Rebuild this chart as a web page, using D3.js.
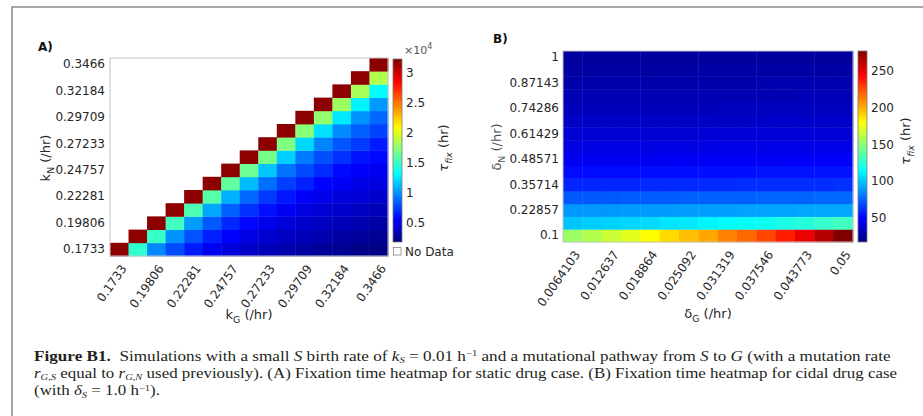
<!DOCTYPE html>
<html>
<head>
<meta charset="utf-8">
<script src="https://cdn.jsdelivr.net/npm/d3@7"></script>
<style>
  body { margin: 0; background: #fff; }
  svg { display: block; font-family: "DejaVu Sans", sans-serif; }
</style>
</head>
<body>
<svg id="fig" width="923" height="416"></svg>
<script>
// ---- Panel A: static drug, fixation time over (k_G, k_N) ----
const kCats = ["0.1733","0.18568","0.19806","0.21044","0.22281","0.23519","0.24757","0.25995",
               "0.27233","0.28471","0.29709","0.30946","0.32184","0.33422","0.3466"];
const kTicks = ["0.1733","0.19806","0.22281","0.24757","0.27233","0.29709","0.32184","0.3466"];
// rows: k_N from 0.1733 (first) up to 0.3466 (last); columns: k_G; null = no data
const fixStatic = [
  [31800,14600, 9700, 7900, 6400, 5300, 4600, 4000, 3500, 3200, 2900, 2600, 2400, 2100, 2000],
  [null,31800,14900,10000, 8100, 6600, 5600, 4800, 4200, 3800, 3500, 3200, 2900, 2700, 2400],
  [null,null,31800,15200,10300, 8300, 6800, 5800, 5000, 4500, 4100, 3800, 3500, 3200, 3000],
  [null,null,null,31800,15500,10600, 8500, 7100, 6100, 5300, 4700, 4300, 4100, 3800, 3500],
  [null,null,null,null,31800,15800,10900, 8700, 7300, 6300, 5500, 5000, 4600, 4400, 4100],
  [null,null,null,null,null,31800,16100,11200, 8900, 7500, 6600, 5700, 5300, 4900, 4700],
  [null,null,null,null,null,null,31800,16400,11500, 9100, 7800, 6900, 5900, 5500, 5200],
  [null,null,null,null,null,null,null,31800,16700,11800, 9300, 8000, 7100, 6200, 5800],
  [null,null,null,null,null,null,null,null,31800,17000,12100, 9600, 8200, 7400, 6400],
  [null,null,null,null,null,null,null,null,null,31800,17300,12300, 9800, 8500, 7600],
  [null,null,null,null,null,null,null,null,null,null,31800,17600,12600,10000, 8700],
  [null,null,null,null,null,null,null,null,null,null,null,31800,17900,12900,10200],
  [null,null,null,null,null,null,null,null,null,null,null,null,31800,18200,13200],
  [null,null,null,null,null,null,null,null,null,null,null,null,null,31800,18500],
  [null,null,null,null,null,null,null,null,null,null,null,null,null,null,31800]
];
const staticRange = [1840, 32200];
const staticBarTicks = [5000, 10000, 15000, 20000, 25000, 30000];

// ---- Panel B: cidal drug, fixation time over (delta_G, delta_N) ----
const dGCats = ["0.0064103","0.0095236","0.012637","0.01575","0.018864","0.021978","0.025092","0.028205",
                "0.031319","0.034432","0.037546","0.04066","0.043773","0.046887","0.05"];
const dGTicks = ["0.0064103","0.012637","0.018864","0.025092","0.031319","0.037546","0.043773","0.05"];
const dNCats = ["0.1","0.16429","0.22857","0.29286","0.35714","0.42143","0.48571","0.55",
                "0.61429","0.67857","0.74286","0.80714","0.87143","0.93571","1"];
const dNTicks = ["0.1","0.22857","0.35714","0.48571","0.61429","0.74286","0.87143","1"];
// rows: delta_N from 0.1 (first) up to 1 (last); columns: delta_G
const fixCidal = [
  [154,160,166,172,180,189,196,202,211,218,227,237,249,264,277],
  [100,102,103,104,105,108,109,112,114,116,118,121,124,128,131],
  [ 88, 88, 88, 89, 89, 89, 90, 90, 90, 91, 91, 91, 92, 92, 92],
  [ 72, 72, 72, 73, 73, 73, 74, 74, 74, 74, 75, 75, 75, 76, 76],
  [ 59, 59, 59, 59, 60, 60, 60, 60, 60, 61, 61, 61, 61, 61, 62],
  [ 52, 52, 52, 52, 53, 53, 53, 53, 53, 53, 54, 54, 54, 54, 54],
  [ 46, 46, 46, 46, 46, 47, 47, 47, 47, 47, 47, 47, 48, 48, 48],
  [ 42, 42, 42, 42, 42, 42, 42, 42, 43, 43, 43, 43, 43, 43, 43],
  [ 38, 38, 38, 38, 38, 38, 38, 39, 39, 39, 39, 39, 39, 39, 39],
  [ 35, 35, 35, 35, 35, 35, 35, 35, 35, 35, 36, 36, 36, 36, 36],
  [ 32, 32, 32, 32, 32, 32, 32, 32, 33, 33, 33, 33, 33, 33, 33],
  [ 30, 30, 30, 30, 30, 30, 30, 30, 30, 30, 30, 30, 31, 31, 31],
  [ 28, 28, 28, 28, 28, 28, 28, 28, 28, 28, 29, 29, 29, 29, 29],
  [ 26, 26, 26, 26, 26, 26, 26, 27, 27, 27, 27, 27, 27, 27, 27],
  [ 25, 25, 25, 25, 25, 25, 25, 25, 25, 25, 25, 25, 25, 25, 25]
];
const cidalRange = [17, 277];
const cidalBarTicks = [50, 100, 150, 200, 250];

// jet colormap anchor points
const jetStops = [0, 0.125, 0.375, 0.625, 0.875, 1];
const jetColors = ["#000080", "#0000ff", "#00ffff", "#ffff00", "#ff0000", "#800000"];

const INK = "#262626";
const svg = d3.select("#fig");

// outer figure frame (top and left rules)
svg.append("path").attr("d", "M12,416V7H923")
  .attr("fill", "none").attr("stroke", "#8a8a8a").attr("stroke-width", 1.5);

function jet(lo, hi) {
  return d3.scaleLinear()
    .domain(jetStops.map(s => lo + s * (hi - lo)))
    .range(jetColors).interpolate(d3.interpolateRgb).clamp(true);
}

// text with optional subscripted pieces; parts: {t, sub, it}
function richText(sel, parts, size) {
  let shift = 0;
  parts.forEach(p => {
    const s = sel.append("tspan").text(p.t);
    const want = p.sub ? size * 0.3 : 0;
    if (want !== shift) { s.attr("dy", want - shift); shift = want; }
    if (p.sub) s.attr("font-size", size * 0.72);
    if (p.it) s.attr("font-style", "italic");
  });
  return sel;
}

function heatmap(opt) {
  const g = svg.append("g");
  const x = d3.scaleBand().domain(opt.xCats).range([opt.x0, opt.x1]);
  const y = d3.scaleBand().domain(opt.yCats).range([opt.y1, opt.y0]);
  const color = jet(opt.range[0], opt.range[1]);

  const cells = [];
  opt.values.forEach((row, r) => row.forEach((v, c) => {
    if (v !== null) cells.push({ r, c, v });
  }));
  g.append("g").selectAll("rect").data(cells).join("rect")
    .attr("x", d => x(opt.xCats[d.c]))
    .attr("y", d => y(opt.yCats[d.r]))
    .attr("width", x.bandwidth() + 0.4)
    .attr("height", y.bandwidth() + 0.4)
    .attr("fill", d => color(d.v));

  g.append("rect")
    .attr("x", opt.x0).attr("y", opt.y0)
    .attr("width", opt.x1 - opt.x0).attr("height", opt.y1 - opt.y0)
    .attr("fill", "none").attr("stroke", "#c4c4c4").attr("stroke-width", 1);

  // y axis
  const ya = g.append("g").attr("transform", `translate(${opt.x0},0)`)
    .call(d3.axisLeft(y).tickValues(opt.yTicks).tickSize(0).tickPadding(opt.yPad));
  ya.select(".domain").remove();
  ya.selectAll("text").attr("font-size", 12).attr("fill", INK)
    .attr("font-family", "DejaVu Sans");

  // x axis with slanted labels
  const xa = g.append("g").attr("transform", `translate(0,${opt.y1})`)
    .call(d3.axisBottom(x).tickValues(opt.xTicks).tickSize(0));
  xa.select(".domain").remove();
  xa.selectAll("text").attr("font-size", 12).attr("fill", INK)
    .attr("font-family", "DejaVu Sans")
    .attr("text-anchor", "end")
    .attr("x", 0).attr("y", 0).attr("dy", "0.35em")
    .attr("transform", "translate(4.5,10) rotate(-55)");

  // axis titles
  richText(g.append("text")
      .attr("transform", `translate(${opt.xLabelX},${opt.xLabelY})`)
      .attr("text-anchor", "middle").attr("font-size", 13).attr("fill", INK),
    opt.xLabel, 13);
  richText(g.append("text")
      .attr("transform", `translate(${opt.yLabelX},${opt.yLabelY}) rotate(-90)`)
      .attr("text-anchor", "middle").attr("font-size", 13).attr("fill", opt.yLabelInk || INK),
    opt.yLabel, 13);

  // colour bar
  const gid = "grad" + opt.id;
  const grad = svg.append("defs").append("linearGradient").attr("id", gid)
    .attr("x1", 0).attr("y1", 1).attr("x2", 0).attr("y2", 0);
  grad.selectAll("stop").data(jetStops).join("stop")
    .attr("offset", d => d).attr("stop-color", (d, i) => jetColors[i]);
  const cs = d3.scaleLinear().domain(opt.range).range([opt.cbY1, opt.cbY0]);
  g.append("rect").attr("x", opt.cbX).attr("y", opt.cbY0)
    .attr("width", opt.cbW).attr("height", opt.cbY1 - opt.cbY0)
    .attr("fill", `url(#${gid})`).attr("stroke", "#7a7a7a").attr("stroke-width", 0.8);
  const ca = g.append("g").attr("transform", `translate(${opt.cbX + opt.cbW},0)`)
    .call(d3.axisRight(cs).tickValues(opt.barTicks).tickSize(0).tickPadding(4)
      .tickFormat(opt.barFormat));
  ca.select(".domain").remove();
  ca.selectAll("text").attr("font-size", 12).attr("fill", INK)
    .attr("font-family", "DejaVu Sans");

  // colour bar title: tau_fix (hr)
  const tt = g.append("text")
    .attr("transform", `translate(${opt.tauX},${opt.tauY}) rotate(-90)`)
    .attr("text-anchor", "middle").attr("font-size", 13).attr("fill", INK);
  richText(tt, [{ t: "τ", it: true }, { t: "fix", sub: true, it: true }, { t: " (hr)" }], 13);

  // panel tag
  g.append("text").attr("x", opt.tagX).attr("y", opt.tagY)
    .attr("font-size", 12).attr("font-weight", "bold").attr("fill", "#111")
    .text(opt.tag);
  return g;
}

// Panel A
const gA = heatmap({
  id: "A", tag: "A)", tagX: 38, tagY: 51,
  xCats: kCats, yCats: kCats, xTicks: kTicks, yTicks: kTicks, values: fixStatic,
  x0: 110, x1: 388, y0: 58, y1: 256, yPad: 5,
  range: staticRange, barTicks: staticBarTicks, barFormat: d => d / 1e4,
  xLabel: [{ t: "k" }, { t: "G", sub: true }, { t: " (/hr)" }], xLabelX: 249, xLabelY: 319,
  yLabel: [{ t: "k" }, { t: "N", sub: true }, { t: " (/hr)" }], yLabelX: 50, yLabelY: 158,
  cbX: 393, cbW: 9, cbY0: 59, cbY1: 242,
  tauX: 448, tauY: 148
});
// exponent marker above the colour bar
const ex = gA.append("text").attr("x", 404).attr("y", 54).attr("font-size", 11).attr("fill", "#555");
ex.append("tspan").text("×10");
ex.append("tspan").attr("dy", -5).attr("font-size", 8).text("4");
// "No Data" legend entry
gA.append("rect").attr("x", 393.5).attr("y", 247.5).attr("width", 7.5).attr("height", 7.5)
  .attr("fill", "#fff").attr("stroke", "#888").attr("stroke-width", 0.8);
gA.append("text").attr("x", 405).attr("y", 255.5).attr("font-size", 12).attr("fill", INK)
  .text("No Data");

// Panel B
heatmap({
  id: "B", tag: "B)", tagX: 493, tagY: 43,
  xCats: dGCats, yCats: dNCats, xTicks: dGTicks, yTicks: dNTicks, values: fixCidal,
  x0: 563, x1: 853, y0: 51, y1: 242, yPad: 4,
  range: cidalRange, barTicks: cidalBarTicks, barFormat: d => d,
  xLabel: [{ t: "δ" }, { t: "G", sub: true }, { t: " (/hr)" }], xLabelX: 708, xLabelY: 318,
  yLabel: [{ t: "δ" }, { t: "N", sub: true }, { t: " (/hr)" }], yLabelX: 501, yLabelY: 147,
  yLabelInk: "#555",
  cbX: 858, cbW: 9, cbY0: 51, cbY1: 242,
  tauX: 910, tauY: 141
});

// ---- Caption ----
const CAP = 14.5;
function captionLine(y, parts, target, fixedScale) {
  const t = svg.append("text").attr("x", 0).attr("y", 0)
    .attr("font-family", "Liberation Serif, serif").attr("font-size", CAP)
    .attr("fill", "#231f20").style("white-space", "pre");
  let shift = 0;
  parts.forEach(p => {
    const s = t.append("tspan").text(p.t);
    const want = p.sub ? 2.8 : p.sup ? -4.5 : 0;
    if (want !== shift) { s.attr("dy", want - shift); shift = want; }
    if (p.sub || p.sup) s.attr("font-size", 9);
    if (p.i) s.attr("font-style", "italic");
    if (p.b) s.attr("font-weight", "bold");
  });
  const w = t.node().getComputedTextLength();
  const sx = fixedScale || target / w;
  t.attr("transform", `translate(34,${y}) scale(${sx},1)`);
  return sx;
}
captionLine(360.5, [
  { t: "Figure B1.", b: true }, { t: "  Simulations with a small " }, { t: "S", i: true },
  { t: " birth rate of " }, { t: "k", i: true }, { t: "S", i: true, sub: true },
  { t: " = 0.01 h" }, { t: "−1", sup: true }, { t: " and a mutational pathway from " },
  { t: "S", i: true }, { t: " to " }, { t: "G", i: true }, { t: " (with a mutation rate" }
], 857);
const s2 = captionLine(377.5, [
  { t: "r", i: true }, { t: "G,S", i: true, sub: true }, { t: " equal to " },
  { t: "r", i: true }, { t: "G,N", i: true, sub: true },
  { t: " used previously). (A) Fixation time heatmap for static drug case. (B) Fixation time heatmap for cidal drug case" }
], 864);
captionLine(395, [
  { t: "(with " }, { t: "δ", i: true }, { t: "S", i: true, sub: true }, { t: " = 1.0 h" },
  { t: "−1", sup: true }, { t: ")." }
], 0, s2);
</script>
</body>
</html>
